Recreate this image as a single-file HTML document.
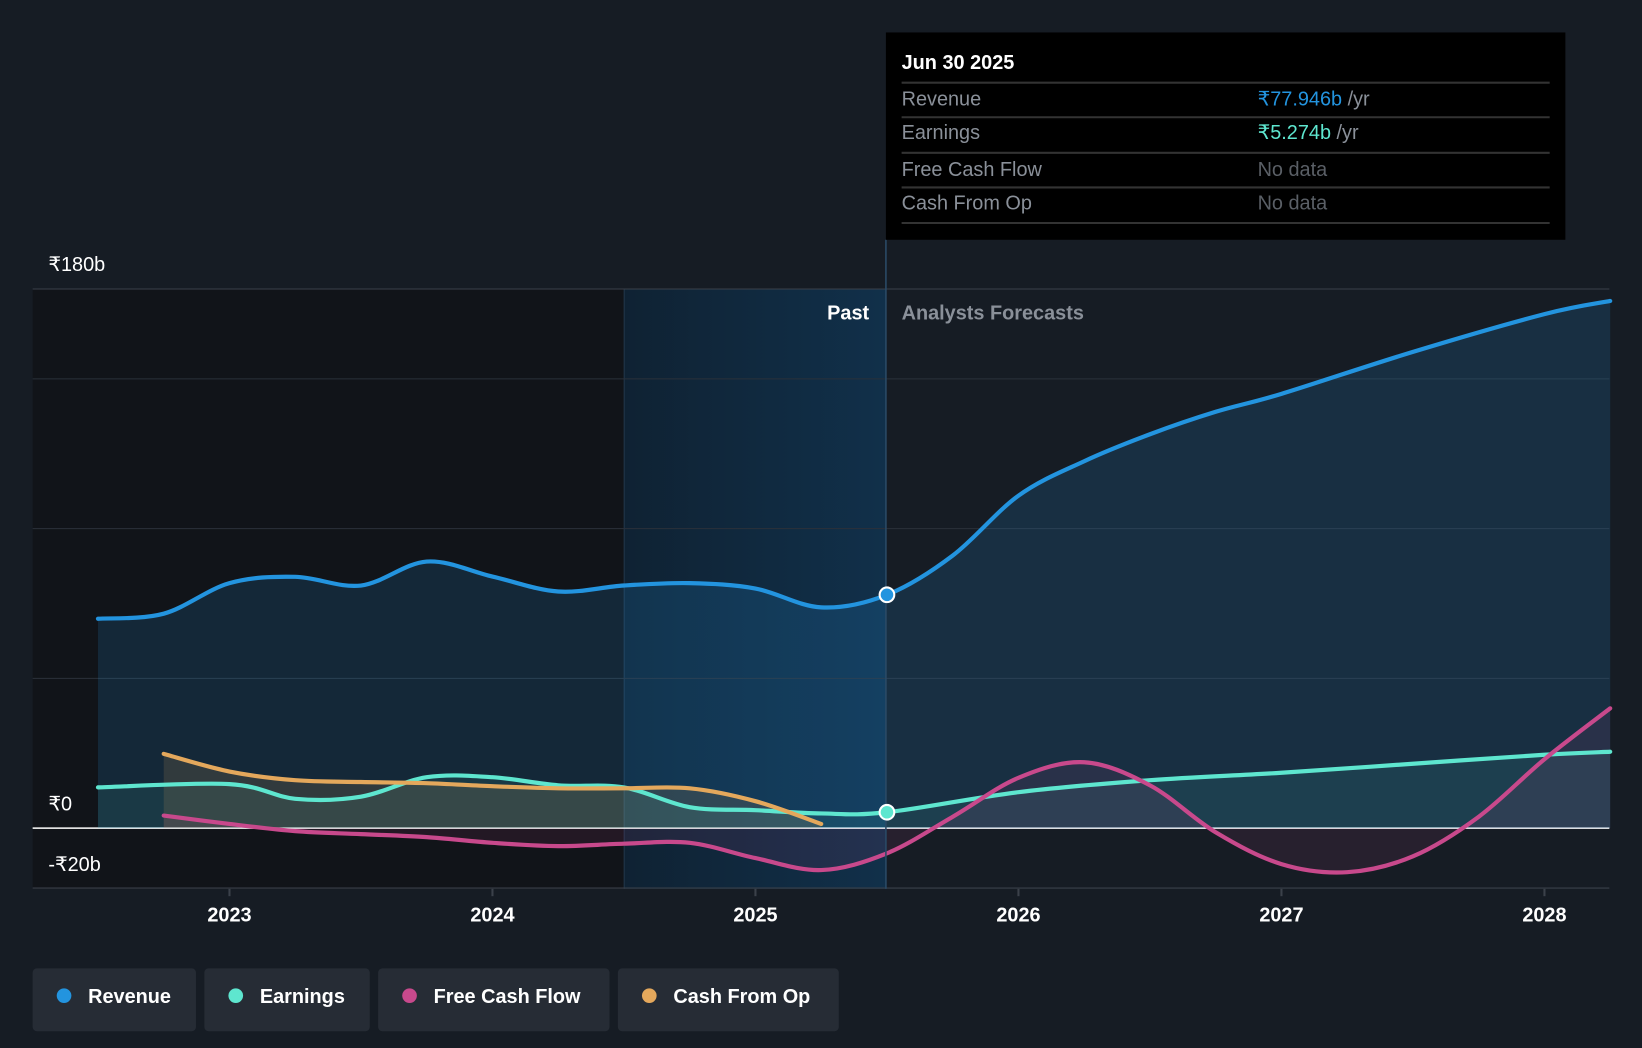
<!DOCTYPE html>
<html><head><meta charset="utf-8"><style>
html,body{margin:0;padding:0;background:#161c24;width:1642px;height:1048px;overflow:hidden;font-family:"Liberation Sans",sans-serif}
svg text{font-family:"Liberation Sans",sans-serif}
</style></head><body>
<svg id="chart" width="1642" height="1048" viewBox="0 0 1568 1001" xmlns="http://www.w3.org/2000/svg">
<defs>
<linearGradient id="pastHl" x1="0" x2="1" y1="0" y2="0"><stop offset="0" stop-color="#0f2233"/><stop offset="1" stop-color="#11304a"/></linearGradient>
</defs>
<rect x="0" y="0" width="1568" height="1001" fill="#161c24"/>
<rect x="31" y="276" width="565" height="573" fill="#111419"/>
<rect x="596" y="276" width="250" height="573" fill="url(#pastHl)"/>
<line x1="596" y1="276" x2="596" y2="849" stroke="#22364a" stroke-width="1"/>
<g id="grid"></g>
<g id="areas"></g>
<g id="lines"></g>
<line x1="846" y1="229" x2="846" y2="849" stroke="#2a4a66" stroke-width="1.5"/>
<text x="830" y="305" fill="#fff" font-size="19" font-weight="bold" text-anchor="end">Past</text>
<text x="861" y="305" fill="#8a9099" font-size="19" font-weight="bold">Analysts Forecasts</text>
<g id="yaxis"></g>
<g id="xaxis"></g>
<g id="dots"></g>
<g>
<rect x="846" y="31" width="649" height="198" fill="#000"/>
<text x="861" y="66" fill="#fff" font-size="19" font-weight="bold">Jun 30 2025</text>
<line x1="861" y1="79" x2="1480" y2="79" stroke="#333" stroke-width="2"/>
<text x="861" y="101" fill="#8a9099" font-size="19">Revenue</text>
<text x="1201" y="101" font-size="19"><tspan fill="#2394df">₹77.946b</tspan><tspan fill="#8a9099"> /yr</tspan></text>
<line x1="861" y1="112" x2="1480" y2="112" stroke="#333" stroke-width="2"/>
<text x="861" y="133" fill="#8a9099" font-size="19">Earnings</text>
<text x="1201" y="133" font-size="19"><tspan fill="#5ee6cf">₹5.274b</tspan><tspan fill="#8a9099"> /yr</tspan></text>
<line x1="861" y1="146" x2="1480" y2="146" stroke="#333" stroke-width="2"/>
<text x="861" y="168" fill="#8a9099" font-size="19">Free Cash Flow</text>
<text x="1201" y="168" fill="#5a5f66" font-size="19">No data</text>
<line x1="861" y1="179" x2="1480" y2="179" stroke="#333" stroke-width="2"/>
<text x="861" y="200" fill="#8a9099" font-size="19">Cash From Op</text>
<text x="1201" y="200" fill="#5a5f66" font-size="19">No data</text>
<line x1="861" y1="213" x2="1480" y2="213" stroke="#333" stroke-width="2"/>
</g>
<g id="legend"></g>
</svg>
<script>
const revX=[2022.5,2022.75,2023,2023.25,2023.5,2023.75,2024,2024.25,2024.5,2024.75,2025,2025.25,2025.5,2025.75,2026,2026.25,2026.5,2026.75,2027,2027.5,2028,2028.25];
const revY=[69.9,71.6,81.8,83.9,81,89,84,79,81,81.8,80,73.7,77.9,91,111,122.5,131.5,139,145,159,171.6,176];
const earnX=[2022.5,2023,2023.25,2023.5,2023.75,2024,2024.25,2024.5,2024.75,2025,2025.25,2025.5,2026,2026.5,2027,2027.5,2028,2028.25];
const earnY=[13.6,14.7,9.8,10.5,17,17,14.3,13.6,7,6,4.9,5.3,12,16,18.5,21.5,24.5,25.5];
const fcfX=[2022.75,2023,2023.25,2023.5,2023.75,2024,2024.25,2024.5,2024.75,2025,2025.25,2025.5,2025.75,2026,2026.25,2026.5,2026.75,2027,2027.25,2027.5,2027.75,2028,2028.25];
const fcfY=[4.2,1.4,-1,-2,-3,-4.9,-6,-5.2,-4.9,-10,-14,-8.4,3.8,16.8,22,14.3,-1.4,-12,-14.7,-9.4,3.8,23,40];
const cfoX=[2022.75,2023,2023.25,2023.5,2023.75,2024,2024.25,2024.5,2024.75,2025,2025.25];
const cfoY=[24.8,18.9,16,15.4,15,14,13.3,13.3,13.3,9,1.4];
const yTicks=[180,150,100,50,0,-20];
const yLabels=["₹180b","","","","₹0","-₹20b"];
const xTicks=[2023,2024,2025,2026,2027,2028];
const legendNames=["Revenue","Earnings","Free Cash Flow","Cash From Op"];
const colors=["#2394df","#5ee6cf","#c8498c","#e4a85c"];
const NS="http://www.w3.org/2000/svg";
const X=v=>219+(v-2023)*251.2;
const Y=v=>791-v*2.861;
function el(t,a,p){const e=document.createElementNS(NS,t);for(const k in a)e.setAttribute(k,a[k]);document.getElementById(p).appendChild(e);return e;}
function path(xs,ys){const p=xs.map((x,i)=>[X(x),Y(ys[i])]);let d="M"+p[0][0]+","+p[0][1];
for(let i=0;i<p.length-1;i++){const p0=p[i-1]||p[i],p1=p[i],p2=p[i+1],p3=p[i+2]||p2;
d+=" C"+(p1[0]+(p2[0]-p0[0])/6)+","+(p1[1]+(p2[1]-p0[1])/6)+" "+(p2[0]-(p3[0]-p1[0])/6)+","+(p2[1]-(p3[1]-p1[1])/6)+" "+p2[0]+","+p2[1];}return d;}
yTicks.forEach((t,i)=>{
 const g=el("line",{x1:31,x2:1537,y1:Y(t),y2:Y(t),stroke:t===0?"#fff":(t===180||t===-20?"#3b414a":"#2b313a"),"stroke-width":t===0?1.5:1},"grid");
 
 
 if(yLabels[i]){const ly=t===-20?Y(t)-17:Y(t)-17;const tx=el("text",{x:46,y:t===-20?832:ly,fill:"#fff","font-size":19},"yaxis");tx.textContent=yLabels[i];
 
 }
});
xTicks.forEach(t=>{
 const l=el("line",{x1:X(t),x2:X(t),y1:849,y2:856,stroke:"#3b414a","stroke-width":2},"xaxis");
 
 
 const tx=el("text",{x:X(t),y:880,fill:"#fff","font-size":19,"font-weight":"bold","text-anchor":"middle"},"xaxis");tx.textContent=t;
 
 
});
const series=[[revX,revY],[earnX,earnY],[fcfX,fcfY],[cfoX,cfoY]];
const fills=["rgba(35,148,223,0.16)","rgba(94,230,207,0.09)","rgba(200,73,140,0.1)","rgba(228,168,92,0.14)"];
series.forEach((s,i)=>{
 const d=path(s[0],s[1]);
 const a=el("path",{d:d+" L"+X(s[0][s[0].length-1])+","+Y(0)+" L"+X(s[0][0])+","+Y(0)+" Z",fill:fills[i]},"areas");
 
 
 const l=el("path",{d:d,fill:"none",stroke:colors[i],"stroke-width":4,"stroke-linecap":"round"},"lines");
 
 
});
[[2025.5,revY[12],colors[0]],[2025.5,earnY[11],colors[1]]].forEach(d=>{
 const c=el("circle",{cx:X(d[0]),cy:Y(d[1]),r:7,fill:d[2],stroke:"#fff","stroke-width":2},"dots");
 
 
});
const lw=[156,158,221,211];let lx=31;
legendNames.forEach((n,i)=>{
 const r=el("rect",{x:lx,y:925,width:lw[i],height:60,rx:4,fill:"#262c35"},"legend");
 
 
 const c=el("circle",{cx:lx+30,cy:951,r:7,fill:colors[i]},"legend");
 
 
 const t=el("text",{x:lx+53,y:958,fill:"#fff","font-size":19,"font-weight":"bold"},"legend");t.textContent=n;
 
 
 lx+=lw[i]+8;
});
</script>
</body></html>
